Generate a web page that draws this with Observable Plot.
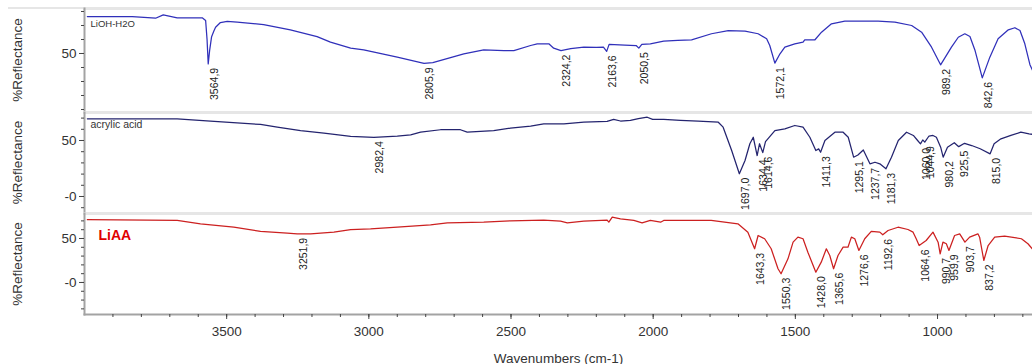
<!DOCTYPE html>
<html><head><meta charset="utf-8">
<script src="https://cdn.jsdelivr.net/npm/d3@7"></script>
<script src="https://cdn.jsdelivr.net/npm/@observablehq/plot@0.6"></script>
<style>
body{margin:0;background:#fff;}
#chart{position:relative;width:1032px;height:364px;overflow:hidden;background:#fff;font-family:"Liberation Sans",Arial,sans-serif;}
#chart svg{position:absolute;left:0;}
#topline{position:absolute;left:8px;top:7px;width:1024px;height:2px;background:#e6e6e6;}
</style></head><body><div id="chart"><div id="topline"></div></div>
<script>
// ---------- data ----------
const liohWn = [3990,3832,3750,3723,3674,3586,3574,3569,3564.9,3560,3553,3545,3539,3522,3498,3463,3370,3276,3182,3135,3064,3018,2900,2806,2775,2666,2596,2525,2490,2431,2408,2367,2350,2324.2,2290,2244,2200,2175,2163.6,2155,2100,2060,2050.5,2040,2010,1963,1914,1865,1795,1736,1677,1631,1601,1590,1572.1,1554,1537,1502,1473,1467,1431,1408,1373,1326,1209,1150,1091,1056,1021,989.2,951,927,904,886,868,842.6,816,787,751,728,710,693,675,666];
const liohR  = [76.4,76.4,75.2,77.6,75.5,75.5,73.6,60,42.6,52,62,66,68.8,72.1,72.9,72.4,70.7,66.9,62.1,58.1,53.8,52.6,47.4,42.9,43.5,49.8,52.6,52.1,52.1,55.7,56.9,56.9,53.8,52.1,53.5,54.5,54.3,54.5,51.5,56.5,56.0,55.7,53.8,56.5,56.9,58.8,59.3,59.8,64.1,66.4,65.9,64.1,60.5,55.7,43.1,49.8,54.5,56.9,58.1,59.8,59.8,65.2,71.2,73.1,73.1,72.4,70.0,65.2,54.5,41.9,54.5,61.6,64.1,62.1,52.1,32.6,47.4,60.5,66.9,68.4,66.4,56.9,42,38];

const acidWn = [3990,3674,3557,3381,3322,3240,3158,3064,2982.4,2900,2853,2818,2748,2678,2654,2561,2502,2431,2385,2314,2244,2162,2139,2115,2080,2052,2021,2002,1963,1904,1842,1771,1754,1724,1697.0,1677,1660,1648,1634.4,1626,1614.6,1605,1572,1537,1502,1473,1449,1428,1418,1411.3,1396,1361,1332,1314,1295.1,1280,1261,1237.7,1220,1203,1181.3,1162,1138,1109,1085,1070,1060.0,1052,1044.9,1030,1016,1004,989,980.2,965,941,925.5,905,880,850,815.0,801,777,742,707,678,666];
const acidR  = [69.4,69.4,67.2,64.3,61.9,58.9,56.5,53.6,52.9,53.8,55.1,57.4,59.6,59.6,57.4,58.9,61.0,62.8,64.9,64.9,66.3,67.0,68.8,67.4,67.9,69.6,70.8,68.8,68.8,67.9,67.2,66.3,61.9,41.1,20.3,32.1,47.1,52.9,36.6,47.1,39.2,49.0,58.9,60.4,63.4,61.9,52.9,41.0,42.5,39.5,50.0,57.4,57.4,52.9,35.1,37.0,41.5,29.2,30.6,29.2,24.7,35.1,50.0,57.4,54.5,50.0,47.0,50.5,48.5,54.0,54.5,52.9,44.0,35.1,44.0,48.0,44.5,47.5,45.5,42.6,38.1,47.1,51.5,54.5,57.4,56.0,55.5];

const liaaWn = [3990,3674,3592,3475,3381,3287,3251.9,3205,3123,3064,2994,2900,2783,2724,2596,2502,2385,2326,2302,2244,2162,2156,2144,2115,2068,2039,2010,1974,1963,1904,1796,1702,1667,1643.3,1631,1608,1585,1561,1550.3,1526,1508,1491,1473,1456,1428.0,1409,1391,1379,1365.6,1350,1332,1315,1303,1291,1276.6,1256,1233,1203,1192.6,1174,1139,1104,1086,1075,1064.6,1040,1016,998,990.7,981,969,959.9,940,922,903.7,887,858,852,837.2,822,799,764,705,682,666];
const liaaR  = [71.3,70.5,66.7,62.8,58.0,56.0,55.3,55.3,57.2,60.2,61.0,62.8,65.6,67.8,68.5,70.1,70.8,69.7,67.8,69.7,70.8,68.5,74.2,72.4,70.5,67.8,70.5,68.5,70.5,70.5,70.5,66.7,57.2,38.3,53.4,49.7,38.3,15.6,9.9,26.9,45.8,51.5,49.7,34.4,11.7,23.1,38.3,30.7,15.6,30.7,40.1,40.1,51.5,49.7,36.4,49.7,58.0,57.2,54.2,59.1,62.8,60.2,57.2,49.7,42.0,47.7,57.2,45.8,32.6,45.8,44.0,36.4,53.4,55.3,45.8,51.5,55.3,51.5,25.0,42.0,51.5,52.6,49.7,44.0,38.0];

const liohPeaks = [3564.9,2805.9,2324.2,2163.6,2050.5,1572.1,989.2,842.6];
const acidPeaks = [2982.4,1697.0,1634.4,1614.6,1411.3,1295.1,1237.7,1181.3,1060.0,1044.9,980.2,925.5,815.0];
const liaaPeaks = [3251.9,1643.3,1550.3,1428.0,1365.6,1276.6,1192.6,1064.6,990.7,959.9,903.7,837.2];

const xDomain = [4000, 666];
const xMajorTicks = [3500, 3000, 2500, 2000, 1500, 1000];
const xMinorTicks = d3.range(700, 4000, 100);
const yMajorTicks1 = [50];
const yMajorTicks23 = [50, 0];
const xLabel = "Wavenumbers (cm-1)";
const yLabel = "%Reflectance";
const names = ["LiOH-H2O", "acrylic acid", "LiAA"];
const colors = ["#3030ba", "#24246f", "#cc2020"];

// ---------- drawing ----------
const fmt = d => d.toFixed(1).replace(".", ",");
const chart = document.getElementById("chart");

function panel(cfg) {
  const rows = cfg.wn.map((w, i) => ({w, r: cfg.r[i]}));
  const lookup = new Map(rows.map(d => [d.w, d.r]));
  const peaks = cfg.peaks.map(p => ({w: p, r: lookup.has(p) ? lookup.get(p) : d3.least(rows, d => Math.abs(d.w - p)).r}));
  const minor = d3.range(Math.ceil(cfg.yDomain[0] / 10) * 10, cfg.yDomain[1], 10);
  const marks = [
    Plot.frame({anchor: "top", stroke: "#e6e6e6", strokeWidth: 3}),
    Plot.frame({anchor: "left", stroke: "#a3a3a3", strokeWidth: 2}),
    Plot.axisY(minor, {tickSize: 3, tickFormat: () => "", label: null, stroke: "#444"}),
    Plot.axisY(cfg.yTicks, {tickSize: 5, tickPadding: 3, fontSize: 13.5, stroke: "#444",
      tickFormat: d => d === 0 ? "-0" : String(d),
      label: yLabel, labelAnchor: "center", labelArrow: "none", labelOffset: 72}),
    Plot.line(rows, {x: "w", y: "r", stroke: cfg.color, strokeWidth: 1.25}),
    Plot.text(peaks, {x: "w", y: "r", text: d => fmt(d.w), rotate: -90, textAnchor: "end",
      dx: 6, dy: 4, fontSize: 10.5, fill: "#222"}),
    Plot.text([cfg.name], {frameAnchor: "top-left", dx: cfg.nameDx, dy: cfg.nameDy,
      fontSize: cfg.nameSize, fontWeight: cfg.nameWeight, fill: cfg.nameFill})
  ];
  if (cfg.xAxis) {
    marks.push(
      Plot.frame({anchor: "bottom", stroke: "#a3a3a3", strokeWidth: 2}),
      Plot.axisX(xMinorTicks, {tickSize: 3, tickFormat: () => "", label: null, stroke: "#444"}),
      Plot.axisX(xMajorTicks, {tickSize: 5, tickPadding: 7, fontSize: 13.5, stroke: "#444",
        tickFormat: d => String(d), label: xLabel, labelAnchor: "center", labelArrow: "none", labelOffset: 48})
    );
  }
  const svg = Plot.plot({
    width: 1032, height: cfg.height,
    marginLeft: 84, marginRight: 0, marginTop: cfg.marginTop, marginBottom: cfg.marginBottom,
    x: cfg.xAxis ? {domain: xDomain} : {domain: xDomain, axis: null},
    y: {domain: cfg.yDomain},
    style: {fontFamily: '"Liberation Sans", Arial, sans-serif', fontSize: "13.5px", color: "#333", background: "transparent", overflow: "visible"},
    marks
  });
  svg.style.top = cfg.top + "px";
  chart.appendChild(svg);
}

panel({wn: liohWn, r: liohR, peaks: liohPeaks, color: colors[0], name: names[0],
  nameDx: 6, nameDy: 12, nameSize: 9.5, nameWeight: "normal", nameFill: "#333",
  yDomain: [8.57, 82.14], yTicks: yMajorTicks1, top: 0, height: 111, marginTop: 8, marginBottom: 0});
panel({wn: acidWn, r: acidR, peaks: acidPeaks, color: colors[1], name: names[1],
  nameDx: 6, nameDy: 8, nameSize: 10.5, nameWeight: "normal", nameFill: "#333",
  yDomain: [-14.29, 75], yTicks: yMajorTicks23, top: 112, height: 100, marginTop: 0, marginBottom: 0});
panel({wn: liaaWn, r: liaaR, peaks: liaaPeaks, color: colors[2], name: names[2],
  nameDx: 14, nameDy: 17, nameSize: 14, nameWeight: "bold", nameFill: "#e00000",
  yDomain: [-36.4, 78.4], yTicks: yMajorTicks23, top: 213, height: 151, marginTop: 0, marginBottom: 50, xAxis: true});
</script>
</body></html>
